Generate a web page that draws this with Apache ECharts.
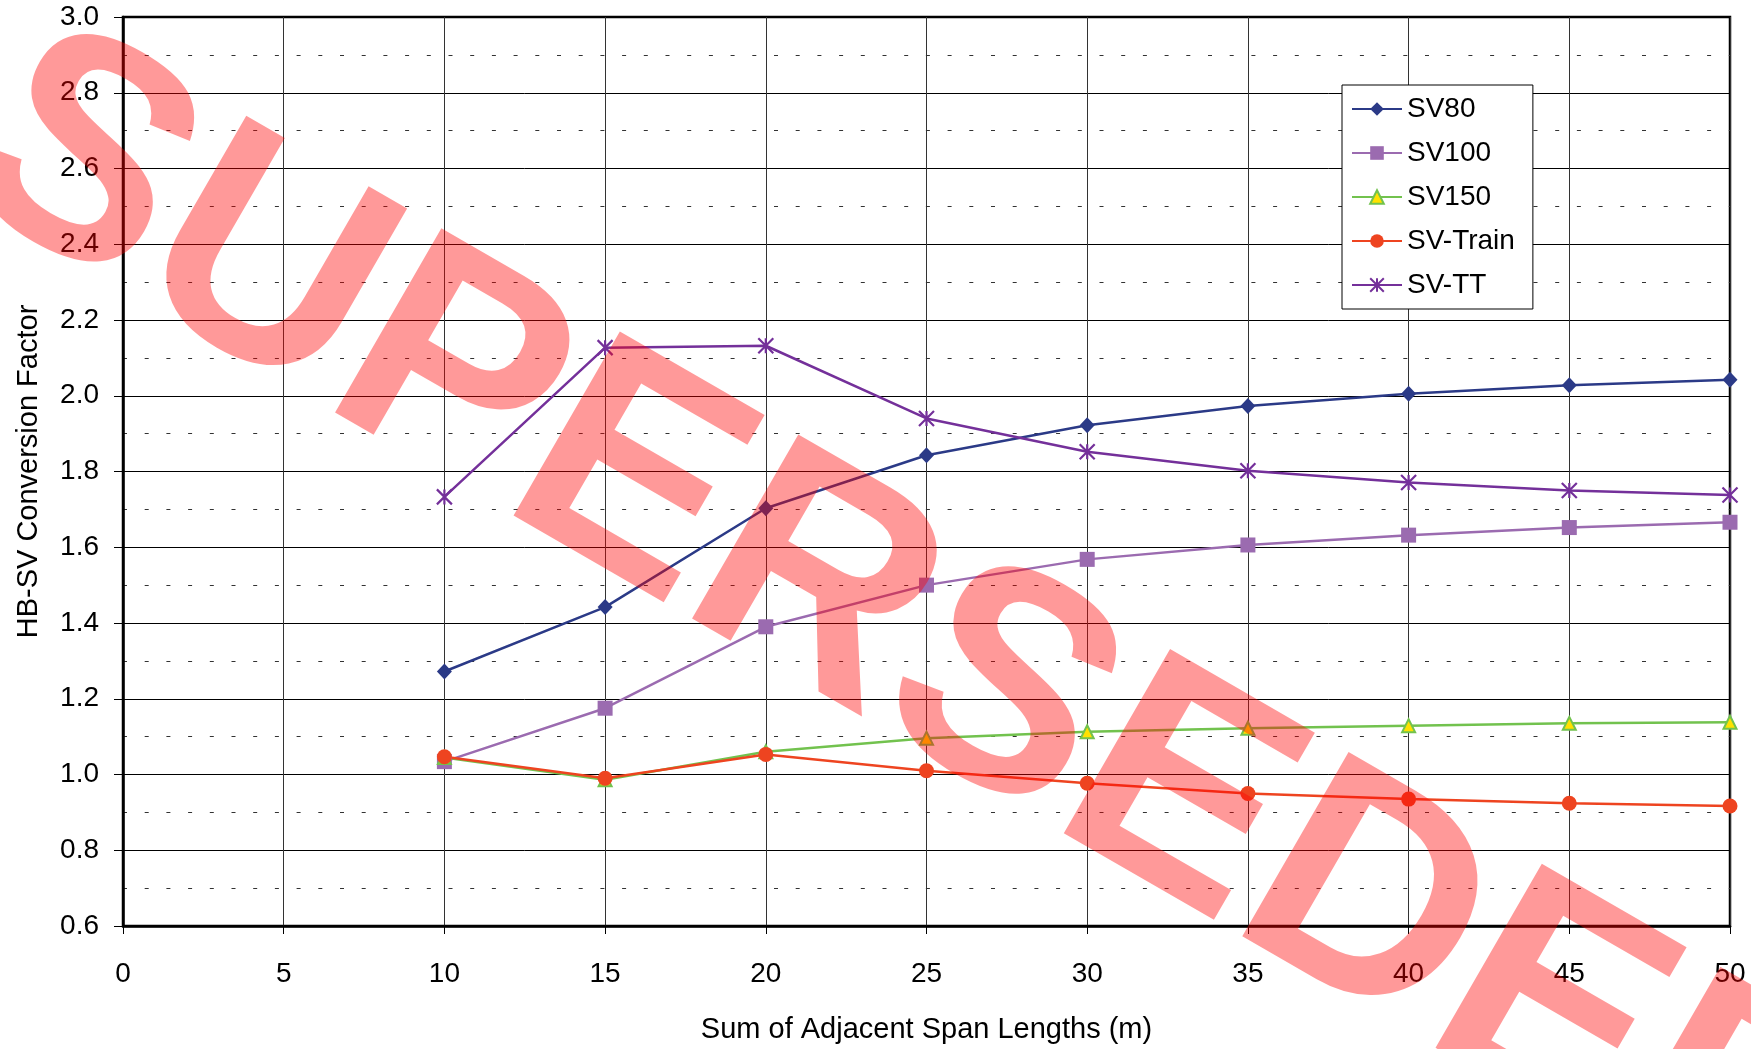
<!DOCTYPE html>
<html>
<head>
<meta charset="utf-8">
<script src="https://cdn.jsdelivr.net/npm/echarts@6/dist/echarts.min.js"></script>
<style>
html,body{margin:0;padding:0;background:#fff;}
#chart{width:1751px;height:1049px;}
</style>
</head>
<body>
<div id="chart"></div>
<script>
var spanLengths = [10, 15, 20, 25, 30, 35, 40, 45, 50];
var sv80    = [1.272, 1.442, 1.703, 1.843, 1.922, 1.973, 2.005, 2.028, 2.042];
var sv100   = [1.034, 1.175, 1.390, 1.500, 1.568, 1.606, 1.632, 1.652, 1.666];
var sv150   = [1.045, 0.986, 1.060, 1.096, 1.113, 1.122, 1.129, 1.135, 1.138];
var svTrain = [1.047, 0.990, 1.053, 1.010, 0.977, 0.950, 0.935, 0.924, 0.917];
var svTT    = [1.733, 2.127, 2.132, 1.940, 1.852, 1.802, 1.771, 1.750, 1.738];
var seriesNames = ['SV80', 'SV100', 'SV150', 'SV-Train', 'SV-TT'];
var xTitle = 'Sum of Adjacent Span Lengths (m)';
var yTitle = 'HB-SV Conversion Factor';
var watermark = 'SUPERSEDED';

function pairs(vals) {
  return spanLengths.map(function (x, i) { return [x, vals[i]]; });
}

var FONT = '"Liberation Sans", Arial, sans-serif';
var chart = echarts.init(document.getElementById('chart'), null, {renderer: 'canvas'});

var option = {
  animation: false,
  backgroundColor: '#fff',
  textStyle: {fontFamily: FONT},
  grid: {left: 123, right: 21, top: 17, bottom: 123, show: true, borderColor: '#000', borderWidth: 2.5, containLabel: false},
  legend: {
    orient: 'vertical', left: 1342, top: 85,
    padding: [9, 18, 9, 9],
    backgroundColor: '#fff', borderColor: '#000', borderWidth: 1,
    itemWidth: 50, itemHeight: 17, itemGap: 14,
    textStyle: {fontSize: 28, color: '#000', fontFamily: FONT, lineHeight: 30},
    data: seriesNames
  },
  xAxis: {
    type: 'value', min: 0, max: 50, interval: 5,
    name: xTitle, nameLocation: 'middle', nameGap: 89,
    nameTextStyle: {fontSize: 29, color: '#000', fontFamily: FONT},
    axisLine: {show: true, onZero: false, lineStyle: {color: '#000', width: 2.5}},
    axisTick: {show: true, length: 8, lineStyle: {color: '#000', width: 1}},
    axisLabel: {fontSize: 28, color: '#000', margin: 34, fontFamily: FONT},
    splitLine: {show: true, lineStyle: {color: '#333', width: 1}}
  },
  yAxis: {
    type: 'value', min: 0.6, max: 3.0, interval: 0.2,
    name: yTitle, nameLocation: 'middle', nameGap: 80, nameRotate: 90,
    nameTextStyle: {fontSize: 29, color: '#000', fontFamily: FONT},
    axisLine: {show: true, onZero: false, lineStyle: {color: '#000', width: 2.5}},
    axisTick: {show: true, length: 9, lineStyle: {color: '#000', width: 1}},
    axisLabel: {fontSize: 28, color: '#000', margin: 24, fontFamily: FONT, padding: [8, 0, 0, 0],
      formatter: function (v) { return v.toFixed(1); }},
    splitLine: {show: true, lineStyle: {color: '#000', width: 1}},
    minorTick: {show: false, splitNumber: 2},
    minorSplitLine: {show: true, lineStyle: {color: '#333', width: 1, type: [4, 17.7]}}
  },
  series: [
    {name: 'SV80', type: 'line', data: pairs(sv80), symbol: 'diamond', symbolSize: [15, 16],
      lineStyle: {color: '#2B3A87', width: 2.5}, itemStyle: {color: '#2B3A87'}},
    {name: 'SV100', type: 'line', data: pairs(sv100), symbol: 'rect', symbolSize: 15,
      lineStyle: {color: '#9B6BB0', width: 2.5}, itemStyle: {color: '#9B6BB0'}},
    {name: 'SV150', type: 'line', data: pairs(sv150), symbol: 'triangle', symbolSize: 13,
      lineStyle: {color: '#72C24E', width: 2.5}, itemStyle: {color: '#FFE100', borderColor: '#72C24E', borderWidth: 2}},
    {name: 'SV-Train', type: 'line', data: pairs(svTrain), symbol: 'circle', symbolSize: 15,
      lineStyle: {color: '#EE4420', width: 2.5}, itemStyle: {color: '#EE4420'}},
    {name: 'SV-TT', type: 'line', data: pairs(svTT), symbol: 'path://M0,0L10,10M10,0L0,10M5,0L5,10', symbolSize: 15,
      lineStyle: {color: '#74309A', width: 2.5}, itemStyle: {color: '#74309A', borderColor: '#74309A', borderWidth: 2.2}}
  ],
  graphic: [{
    type: 'text', x: 910, y: 646, rotation: -30 * Math.PI / 180, z: 100, silent: true,
    style: {text: watermark, fontSize: 309, fontWeight: 'bold', fontFamily: FONT,
      fill: 'rgba(255,0,0,0.4)', align: 'center', verticalAlign: 'middle'}
  }]
};
chart.setOption(option);
</script>
</body>
</html>
